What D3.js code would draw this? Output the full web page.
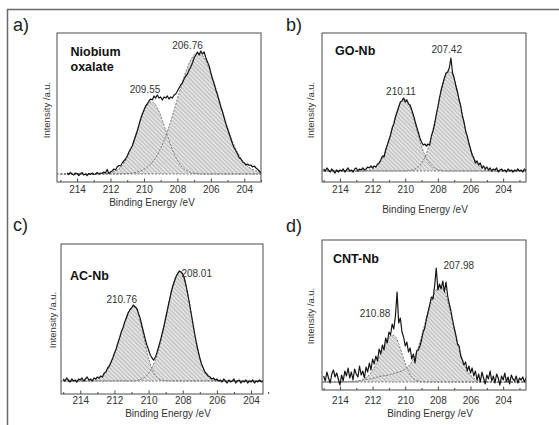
<!DOCTYPE html>
<html><head><meta charset="utf-8">
<script src="https://cdn.jsdelivr.net/npm/d3@7"></script>
<style>
html,body{margin:0;padding:0;background:#fff;}
svg{display:block;}
text{font-family:"Liberation Sans",Arial,Helvetica,sans-serif;}
</style>
</head><body>
<svg id="chart" width="559" height="425"></svg>
<script>
// ---------------- DATA ----------------
const energyRaw = [
215.0,214.9,214.8,214.7,214.6,214.5,214.4,214.3,214.2,214.1,
214.0,213.9,213.8,213.7,213.6,213.5,213.4,213.3,213.2,213.1,
213.0,212.9,212.8,212.7,212.6,212.5,212.4,212.3,212.2,212.1,
212.0,211.9,211.8,211.7,211.6,211.5,211.4,211.3,211.2,211.1,
211.0,210.9,210.8,210.7,210.6,210.5,210.4,210.3,210.2,210.1,
210.0,209.9,209.8,209.7,209.6,209.5,209.4,209.3,209.2,209.1,
209.0,208.9,208.8,208.7,208.6,208.5,208.4,208.3,208.2,208.1,
208.0,207.9,207.8,207.7,207.6,207.5,207.4,207.3,207.2,207.1,
207.0,206.9,206.8,206.7,206.6,206.5,206.4,206.3,206.2,206.1,
206.0,205.9,205.8,205.7,205.6,205.5,205.4,205.3,205.2,205.1,
205.0,204.9,204.8,204.7,204.6,204.5,204.4,204.3,204.2,204.1,
204.0,203.9,203.8,203.7,203.6,203.5,203.4,203.3,203.2,203.1,
203.0,202.9,202.8,202.7,202.6];

const energyFit = [
215.0,214.8,214.6,214.4,214.2,214.0,213.8,213.6,213.4,213.2,
213.0,212.8,212.6,212.4,212.2,212.0,211.8,211.6,211.4,211.2,
211.0,210.8,210.6,210.4,210.2,210.0,209.8,209.6,209.4,209.2,
209.0,208.8,208.6,208.4,208.2,208.0,207.8,207.6,207.4,207.2,
207.0,206.8,206.6,206.4,206.2,206.0,205.8,205.6,205.4,205.2,
205.0,204.8,204.6,204.4,204.2,204.0,203.8,203.6,203.4,203.2,
203.0,202.8,202.6];

const xTickValues = [214,212,210,208,206,204];
const xMinorValues = [215,213,211,209,207,205,203];
const panelLetters = ["a)","b)","c)","d)"];
const sampleNames = [["Niobium","oxalate"],["GO-Nb"],["AC-Nb"],["CNT-Nb"]];
const peakLabels = [["209.55","206.76"],["210.11","207.42"],["210.76","208.01"],["210.88","207.98"]];
const xAxisTitle = "Binding Energy /eV";
const yAxisTitle = "Intensity /a.u.";

// a) Niobium oxalate
const rawA = [
null,null,null,null,9,7.5,9.5,8,7,9,
8.5,6.5,8,9.5,7,8,6.5,8.5,7.5,9,
7.5,8,9.5,8,9,8.5,10,9,12.5,8.5,
10,11,13,12,15,16.5,16,19,21,23,
26,30,33,36,41,46,51,57,63,68,
72,76,78,81,83,82,86,84,87,84,
85,82,85,84,86,83,85,84,87,88,
91,94,97,99,103,106,108,112,115,119,
124,127,130,127,131,128,130,124,120,116,
109,103,98,92,87,81,75,70,64,58,
53,48,43,38,34,31,28,24,23,20,
19,17,18,16.5,17,15,16,14,12.5,11,
9,9,8,9,8];
const fitA1 = [
8,8,8,8,8,8,8,8,8,8,
8,8,8,8.3,8.6,9.1,10.2,11.9,14.7,19.0,
24.8,32.4,41.6,51.7,61.8,70.6,77.0,79.9,78.9,74.2,
66.4,56.8,46.5,36.8,28.4,21.7,16.6,13.2,10.9,9.6,
8.8,8.4,8,8,8,8,8,8,8,8,
8,8,8,8,8,8,8,8,8,8,
8,8,8];
const fitA2 = [
8,8,8,8,8,8,8,8,8,8,
8,8,8,8,8,8,8.1,8.1,8.2,8.3,
8.5,8.8,9.3,10.0,11.1,12.7,14.9,17.9,21.9,27.1,
33.6,41.3,50.3,60.6,71.6,83.1,94.5,105.2,114.6,122.0,
126.9,129.0,128.0,124.2,117.8,109.2,98.9,87.7,76.2,64.9,
54.3,44.8,36.5,29.5,23.9,19.4,16.0,13.4,11.7,10.4,
9.5,9.0,8.6];
const baselineA = 8;

// b) GO-Nb
const rawB = [
13,11,14,12,10,13,11,9,12,10,
12,11,13,10,12,14,11,12,10,13,
14,11,13,12,14,12,13,15,14,16,
14,16,15,18,19,22,26,25,32,37,
42,47,54,58,65,70,75,80,81,84,
80,82,78,77,72,67,61,55,50,44,
40,37,38,36,38,37,46,51,58,67,
75,84,92,98,104,109,110,114,124,109,
104,96,90,82,76,66,60,51,46,39,
33,27,24,19,21,17,19,14,16,13,
15,12,14,11,13,12,14,10,12,13,
11,12,10,13,11,12,10,12,11,13,
11,12,10,13,11];
const fitB1 = [
11,11,11,11,11,11,11,11,11,11,
11,11,11,11.4,11.8,12.8,14.8,18.1,23.4,31.1,
41.2,52.9,64.8,75.0,81.5,82.8,78.8,70.2,58.9,46.9,
35.9,27.0,20.5,16.2,13.7,12.3,11.5,11,11,11,
11,11,11,11,11,11,11,11,11,11,
11,11,11,11,11,11,11,11,11,11,
11,11,11];
const fitB2 = [
11,11,11,11,11,11,11,11,11,11,
11,11,11,11,11,11,11,11,11,11,
11,11,11,11,11,11,11.4,11.9,13.0,15.0,
18.7,24.5,33.3,45.1,59.7,75.7,91.1,103.3,110.1,110.1,
103.3,91.1,75.7,59.7,45.1,33.3,24.5,18.7,15.0,13.0,
11.9,11.4,11,11,11,11,11,11,11,11,
11,11,11];
const baselineB = 11;

// c) AC-Nb
const rawC = [
15,13,16,14,12,15,13,14,12,15,
14,16,13,15,17,14,15,13,16,15,
17,16,18,17,21,22,26,28,32,36,
41,45,51,56,62,66,72,76,81,84,
86,89,87,86,81,76,69,62,55,49,
44,39,36,34,37,42,48,54,61,68,
76,84,92,100,107,112,117,120,123,122,
120,115,108,99,90,80,70,60,51,43,
36,30,26,22,20,18,17,15,16,14,
15,13,14,12,15,13,11,14,12,13,
15,11,13,14,11,13,12,14,11,13,
12,14,11,13,12,14,12,13,11,13,
12,13,12,13,12];
const fitC1 = [
13,13,13,13,13,13,13,13,13.5,14.0,
15.0,16.8,19.9,24.5,31.1,39.7,50.1,61.3,72.2,81.2,
86.7,87.7,80.6,66.6,50.3,35.7,25.1,18.7,15.3,13.8,
13.3,13,13,13,13,13,13,13,13,13,
13,13,13,13,13,13,13,13,13,13,
13,13,13,13,13,13,13,13,13,13,
13,13,13];
const fitC2 = [
13,13,13,13,13,13,13,13,13,13,
13,13,13,13,13,13,13,13,13,13,
13,13,14.0,15.1,17.1,20.6,26.1,34.3,45.5,59.5,
75.6,92.1,106.9,117.8,122.8,120.1,108.2,89.9,69.5,50.8,
36.0,25.7,19.4,15.9,14.2,13.5,13,13,13,13,
13,13,13,13,13,13,13,13,13,13,
13,13,13];
const baselineC = 13;

// d) CNT-Nb
const rawD = [
14,9,18,12,7,16,20,13,17,11,
5,15,9,19,14,22,12,18,10,21,
16,13,24,15,19,12,23,18,27,20,
31,26,34,29,41,36,45,40,52,47,
58,55,66,61,74,98,67,72,58,53,
44,48,38,42,31,36,27,39,40,44,
50,58,62,71,78,85,93,91,104,122,
100,106,101,109,98,108,94,86,79,70,
62,55,46,44,34,30,25,28,19,24,
17,22,14,19,10,16,8,18,12,6,
15,11,19,9,14,7,16,12,5,14,
10,17,8,13,6,15,11,9,14,7,
12,10,13,8,12];
const fitD1 = [
8,8,8,8,8,8,8,8,8,8,
8,9.1,10.2,12.2,15.3,19.7,25.6,32.7,40.3,47.3,
52.5,54.9,53.3,46.4,36.5,26.6,18.6,13.3,10.3,8.9,
8.3,8,8,8,8,8,8,8,8,8,
8,8,8,8,8,8,8,8,8,8,
8,8,8,8,8,8,8,8,8,8,
8,8,8];
const fitD2 = [
8,8,8,8,8,8,8.2,8.4,8.6,8.8,
9,9.5,10,10.5,11,11.5,12.5,13.5,14,14.5,
15,16,17,18,19,21,24,28,34,43,
54,66,78,89,97.5,102,103,99,89,76,
62,48,36,26,19,15,12,10,9,8.5,
8.2,8,8,8,8,8,8,8,8,8,
8,8,8];
const baselineD = 8;

const rawSeries = [rawA, rawB, rawC, rawD];
const fitSeries = [[fitA1, fitA2], [fitB1, fitB2], [fitC1, fitC2], [fitD1, fitD2]];
const baselines = [baselineA, baselineB, baselineC, baselineD];

// ---------------- LAYOUT ----------------
const layout = [
  {box:[57,33,261,182],  dom:[215.2,203.0],  tickPad:4.2, letter:[13,31],  name:[70.5,55.5], peaks:[[145,92.7],[187.5,49.3]],  xTitle:[152,206],   yTitle:[47,110]},
  {box:[322,33,526,182], dom:[215.1,202.6],  tickPad:4.2, letter:[286,31], name:[335,55],    peaks:[[401,94.5],[446.7,53.3]], xTitle:[425,213],   yTitle:[311,110]},
  {box:[61,244,263,394], dom:[215.13,203.3], tickPad:3.2, letter:[13,231], name:[70,280],    peaks:[[121.7,302.7],[196.7,277]], xTitle:[168,416.5], yTitle:[53,320]},
  {box:[322,240,526,390],dom:[215.1,202.6],  tickPad:6.5, letter:[286,232],name:[333,263],   peaks:[[375,316.7],[458.8,269.3]], xTitle:[430,416.5], yTitle:[311,316]}
];

const svg = d3.select("#chart");
const defs = svg.append("defs");
const pat = defs.append("pattern").attr("id","hatch")
  .attr("width",3).attr("height",3)
  .attr("patternUnits","userSpaceOnUse")
  .attr("patternTransform","rotate(-45)");
pat.append("rect").attr("width",3).attr("height",3).attr("fill","#e2e2e2");
pat.append("line").attr("x1",0).attr("y1",0).attr("x2",0).attr("y2",3)
  .attr("stroke","#8e8e8e").attr("stroke-width",0.9);

// outer frame (left + top)
svg.append("line").attr("x1",7.5).attr("y1",9).attr("x2",7.5).attr("y2",425)
  .attr("stroke","#6a6a6a").attr("stroke-width",1.5);
svg.append("line").attr("x1",7).attr("y1",9.5).attr("x2",559).attr("y2",9.5)
  .attr("stroke","#6a6a6a").attr("stroke-width",1.5);

layout.forEach((L, i) => {
  const [x0,y0,x1,y1] = L.box;
  const x = d3.scaleLinear().domain(L.dom).range([x0,x1]);
  const y = d3.scaleLinear().domain([0, y1 - y0]).range([y1, y0]);
  const g = svg.append("g");

  defs.append("clipPath").attr("id","clip"+i)
    .append("rect").attr("x",x0).attr("y",y0).attr("width",x1-x0).attr("height",y1-y0);
  const plot = g.append("g").attr("clip-path",`url(#clip${i})`);

  const base = baselines[i];
  const fits = fitSeries[i].map(arr => energyFit.map((e,k)=>({e, v: arr[k]})));

  const area = d3.area().x(d=>x(d.e)).y0(y(base)).y1(d=>y(d.v)).curve(d3.curveMonotoneX);
  const line = d3.line().x(d=>x(d.e)).y(d=>y(d.v)).curve(d3.curveMonotoneX);

  fits.forEach(f => {
    plot.append("path").datum(f).attr("d",area).attr("fill","url(#hatch)").attr("stroke","none");
  });
  fits.forEach(f => {
    plot.append("path").datum(f).attr("d",line).attr("fill","none")
      .attr("stroke","#6e6e6e").attr("stroke-width",0.9).attr("stroke-dasharray","2,1.5");
  });
  plot.append("line").attr("x1",x0).attr("x2",x1).attr("y1",y(base)).attr("y2",y(base))
    .attr("stroke","#6e6e6e").attr("stroke-width",0.9).attr("stroke-dasharray","2,1.5");

  const raw = energyRaw.map((e,k)=>({e, v: rawSeries[i][k]}));
  plot.append("path").datum(raw)
    .attr("d", d3.line().defined(d=>d.v!=null).x(d=>x(d.e)).y(d=>y(d.v)))
    .attr("fill","none").attr("stroke","#151515").attr("stroke-width",1.2).attr("stroke-linejoin","round");

  // frame
  g.append("rect").attr("x",x0).attr("y",y0).attr("width",x1-x0).attr("height",y1-y0)
    .attr("fill","none").attr("stroke","#4a4a4a").attr("stroke-width",1);

  // axes
  const ax = g.append("g").attr("transform",`translate(0,${y1})`)
    .call(d3.axisBottom(x).tickValues(xTickValues).tickSize(-3.5).tickPadding(L.tickPad).tickFormat(d3.format("d")));
  ax.select(".domain").remove();
  ax.selectAll("line").attr("stroke","#4a4a4a");
  ax.selectAll("text").attr("font-size",10).attr("fill","#333")
    .style("font-family",'"Liberation Sans",Arial,sans-serif');
  const axm = g.append("g").attr("transform",`translate(0,${y1})`)
    .call(d3.axisBottom(x).tickValues(xMinorValues).tickSize(-2).tickFormat(""));
  axm.select(".domain").remove();
  axm.selectAll("line").attr("stroke","#4a4a4a");

  // texts
  g.append("text").attr("x",L.letter[0]).attr("y",L.letter[1])
    .attr("font-size",18).attr("fill","#222").text(panelLetters[i]);
  sampleNames[i].forEach((s,k)=>{
    g.append("text").attr("x",L.name[0]).attr("y",L.name[1]+k*15.5)
      .attr("font-size",12.5).attr("font-weight","bold").attr("fill","#111").text(s);
  });
  peakLabels[i].forEach((s,k)=>{
    g.append("text").attr("x",L.peaks[k][0]).attr("y",L.peaks[k][1])
      .attr("text-anchor","middle").attr("font-size",10).attr("fill","#333").text(s);
  });
  g.append("text").attr("x",L.xTitle[0]).attr("y",L.xTitle[1])
    .attr("text-anchor","middle").attr("font-size",10).attr("fill","#333").text(xAxisTitle);
  g.append("text").attr("transform",`translate(${L.yTitle[0]+3.4},${L.yTitle[1]}) rotate(-90)`)
    .attr("text-anchor","middle").attr("font-size",9.5).attr("fill","#333").text(yAxisTitle);
});
</script>
</body></html>
